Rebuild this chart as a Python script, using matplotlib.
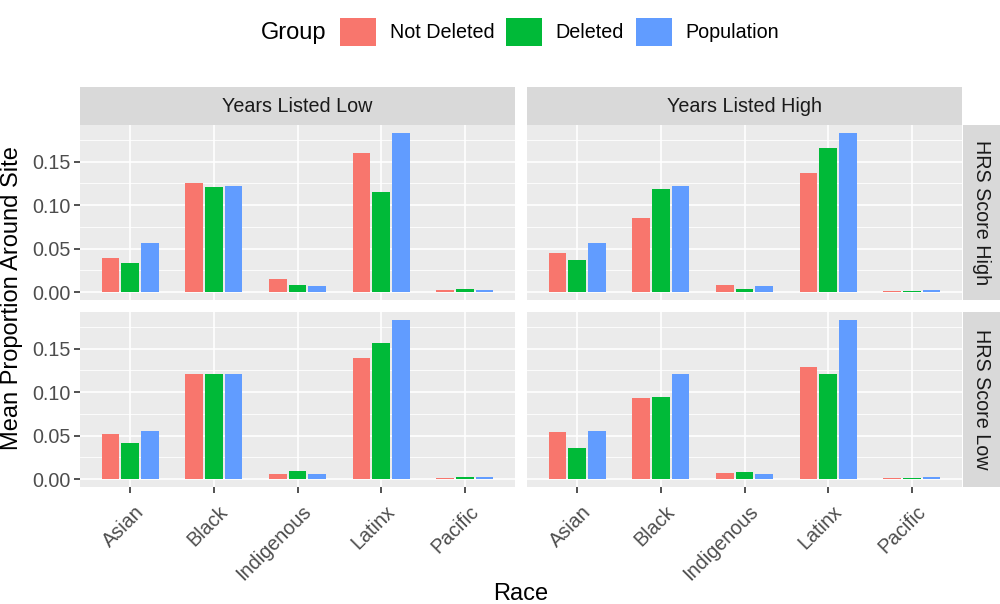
import matplotlib
matplotlib.use("Agg")
import matplotlib.pyplot as plt
from matplotlib.patches import Patch
from matplotlib.transforms import ScaledTranslation
import numpy as np

plt.rcParams['font.family'] = ['Liberation Sans', 'DejaVu Sans']

races = ["Asian", "Black", "Indigenous", "Latinx", "Pacific"]
groups = ["Not Deleted", "Deleted", "Population"]
colors = ["#F8766D", "#00BA38", "#619CFF"]
col_labels = ["Years Listed Low", "Years Listed High"]
row_labels = ["HRS Score High", "HRS Score Low"]

# values[row][col][group] -> list over races
low_high_nd = [0.039, 0.126, 0.0155, 0.160, 0.002]
low_high_del = [0.033, 0.121, 0.0085, 0.115, 0.0035]
low_high_pop = [0.056, 0.1215, 0.0065, 0.183, 0.002]

high_high_nd = [0.045, 0.085, 0.008, 0.137, 0.0012]
high_high_del = [0.0365, 0.119, 0.0038, 0.1655, 0.0008]
high_high_pop = [0.056, 0.1215, 0.0065, 0.183, 0.0027]

low_low_nd = [0.0523, 0.1212, 0.0054, 0.139, 0.0012]
low_low_del = [0.042, 0.1212, 0.0089, 0.156, 0.0027]
low_low_pop = [0.0555, 0.1212, 0.0054, 0.183, 0.0019]

high_low_nd = [0.0543, 0.0935, 0.0073, 0.129, 0.0008]
high_low_del = [0.036, 0.094, 0.008, 0.121, 0.0008]
high_low_pop = [0.0555, 0.1212, 0.0054, 0.183, 0.0019]

values = [
    [[low_high_nd, low_high_del, low_high_pop], [high_high_nd, high_high_del, high_high_pop]],
    [[low_low_nd, low_low_del, low_low_pop], [high_low_nd, high_low_del, high_low_pop]],
]

W, H = 1000, 604
fig = plt.figure(figsize=(W / 100, H / 100), dpi=100)
fig.patch.set_facecolor("white")

def fr(x0, y0, x1, y1):
    return [x0 / W, 1 - y1 / H, (x1 - x0) / W, (y1 - y0) / H]

col_x = [(80, 515), (527, 962)]
row_y = [(125, 300), (312, 487)]

allmax = max(max(max(g) for g in c) for r in values for c in r)
ylo, yhi = -0.05 * allmax, 1.05 * allmax

tick_fs = 14.2
title_fs = 17
xpos = np.arange(1, len(races) + 1)
spacing = 0.235
bw = 0.21

for r in range(2):
    for c in range(2):
        x0, x1 = col_x[c]
        y0, y1 = row_y[r]
        ax = fig.add_axes(fr(x0, y0, x1, y1))
        ax.set_facecolor("#EBEBEB")
        for s in ax.spines.values():
            s.set_visible(False)
        ax.set_xlim(0.4, len(races) + 0.6)
        ax.set_ylim(ylo, yhi)
        ax.set_yticks([0, 0.05, 0.10, 0.15])
        ax.set_yticks([0.025, 0.075, 0.125, 0.175], minor=True)
        ax.set_xticks(xpos)
        ax.grid(True, which="major", color="white", lw=1.2)
        ax.grid(True, which="minor", axis="y", color="white", lw=0.6)
        ax.set_axisbelow(True)
        for g in range(3):
            ax.bar(xpos + (g - 1) * spacing, values[r][c][g], width=bw,
                   color=colors[g], zorder=3)
        ax.tick_params(axis="both", which="minor", length=0)
        ax.tick_params(axis="both", which="major", color="#333333", length=4.5,
                       width=1.2, labelsize=tick_fs, labelcolor="#4D4D4D", pad=2.5)
        if c == 0:
            ax.set_yticklabels(["0.00", "0.05", "0.10", "0.15"])
        else:
            ax.tick_params(axis="y", length=0, labelleft=False)
        if r == 1:
            ax.set_xticklabels(races, rotation=45, ha="right", rotation_mode="anchor")
            off = ScaledTranslation(3 / 72, -4 / 72, fig.dpi_scale_trans)
            for lab in ax.get_xticklabels():
                lab.set_transform(lab.get_transform() + off)
        else:
            ax.tick_params(axis="x", length=0, labelbottom=False)

# top strips
for c in range(2):
    x0, x1 = col_x[c]
    sax = fig.add_axes(fr(x0, 87, x1, 125))
    sax.set_facecolor("#D9D9D9")
    sax.set_xticks([]); sax.set_yticks([])
    for s in sax.spines.values():
        s.set_visible(False)
    sax.text(0.5, 0.5, col_labels[c], ha="center", va="center",
             fontsize=tick_fs, color="#1A1A1A", transform=sax.transAxes)

# right strips
for r in range(2):
    y0, y1 = row_y[r]
    sax = fig.add_axes(fr(963, y0, 1000, y1))
    sax.set_facecolor("#D9D9D9")
    sax.set_xticks([]); sax.set_yticks([])
    for s in sax.spines.values():
        s.set_visible(False)
    sax.text(0.5, 0.5, row_labels[r], ha="center", va="center", rotation=-90,
             fontsize=tick_fs, color="#1A1A1A", transform=sax.transAxes)

# axis titles
fig.text(12 / W, 1 - 298 / H, "Mean Proportion Around Site", rotation=90,
         ha="center", va="center", fontsize=title_fs, color="black")
fig.text(521 / W, 1 - 594 / H, "Race", ha="center", va="center",
         fontsize=title_fs, color="black")

# legend
handles = [Patch(facecolor=colors[i], edgecolor="none", label=groups[i]) for i in range(3)]
leg = fig.legend(handles=handles, ncol=3, loc="center left",
                 bbox_to_anchor=(340 / W, 1 - 32 / H), frameon=False,
                 fontsize=tick_fs, handlelength=1.82, handleheight=1.82,
                 handletextpad=0.7, columnspacing=0.6, borderaxespad=0,
                 borderpad=0)
fig.text(294 / W, 1 - 33 / H, "Group", ha="center", va="center",
         fontsize=title_fs, color="black")

fig.savefig("out.png", dpi=100, facecolor="white")
